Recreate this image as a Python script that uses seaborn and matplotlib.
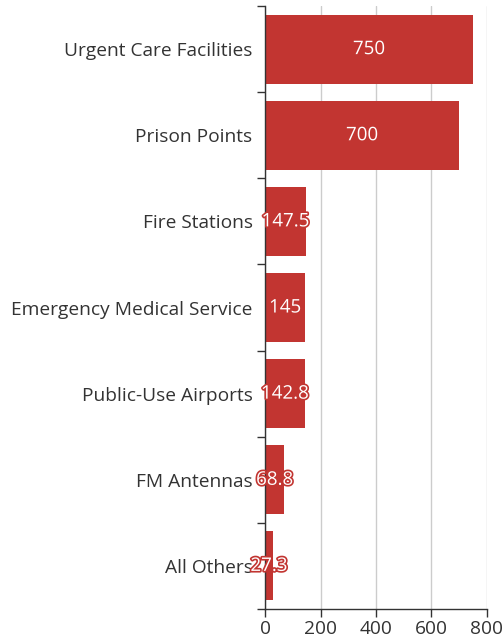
import matplotlib
matplotlib.use('Agg')
import matplotlib.pyplot as plt
import matplotlib.patheffects as pe
from matplotlib.ticker import FixedLocator
import seaborn as sns
import pandas as pd

categories = ['Urgent Care Facilities', 'Prison Points', 'Fire Stations',
              'Emergency Medical Service', 'Public-Use Airports', 'FM Antennas',
              'All Others']
values = [750, 700, 147.5, 145, 142.8, 68.8, 27.3]
labels = ['750', '700', '147.5', '145', '142.8', '68.8', '27.3']
x_ticks = [0, 200, 400, 600, 800]

df = pd.DataFrame({'category': categories, 'value': values})

sns.set_style('white')
plt.rcParams['font.family'] = ['Open Sans', 'DejaVu Sans']

fig = plt.figure(figsize=(5.03, 6.38), dpi=100)
ax = fig.add_axes([0.527, 0.0455, 0.441, 0.945])

red = '#c23531'
sns.barplot(data=df, x='value', y='category', orient='h', color=red,
            saturation=1, width=0.8, linewidth=0, ax=ax)

for i, (v, t) in enumerate(zip(values, labels)):
    ax.text(v / 2, i, t, ha='center', va='center', color='white', fontsize=13.5,
            path_effects=[pe.withStroke(linewidth=2.4, foreground=red)], zorder=5)

ax.set_xlim(0, 800)
ax.set_ylim(len(categories) - 0.5, -0.5)
ax.set_xticks(x_ticks)
ax.set_xticklabels([str(t) for t in x_ticks])
ax.xaxis.grid(True, color='#cccccc', linewidth=1)
ax.set_axisbelow(True)

ax.yaxis.set_minor_locator(FixedLocator([i - 0.5 for i in range(len(categories) + 1)]))
ax.tick_params(axis='y', which='major', length=0, pad=9, labelsize=13.8, labelcolor='#333333')
ax.tick_params(axis='y', which='minor', length=6, width=1, color='#333333', left=True)
ax.tick_params(axis='x', which='major', length=6, width=1, color='#333333', bottom=True,
               labelsize=13.8, labelcolor='#333333', pad=2)

for s in ['top', 'right']:
    ax.spines[s].set_visible(False)
for s in ['left', 'bottom']:
    ax.spines[s].set_color('#333333')
    ax.spines[s].set_linewidth(1)

ax.set_xlabel('')
ax.set_ylabel('')

fig.savefig('out.png', dpi=100)
